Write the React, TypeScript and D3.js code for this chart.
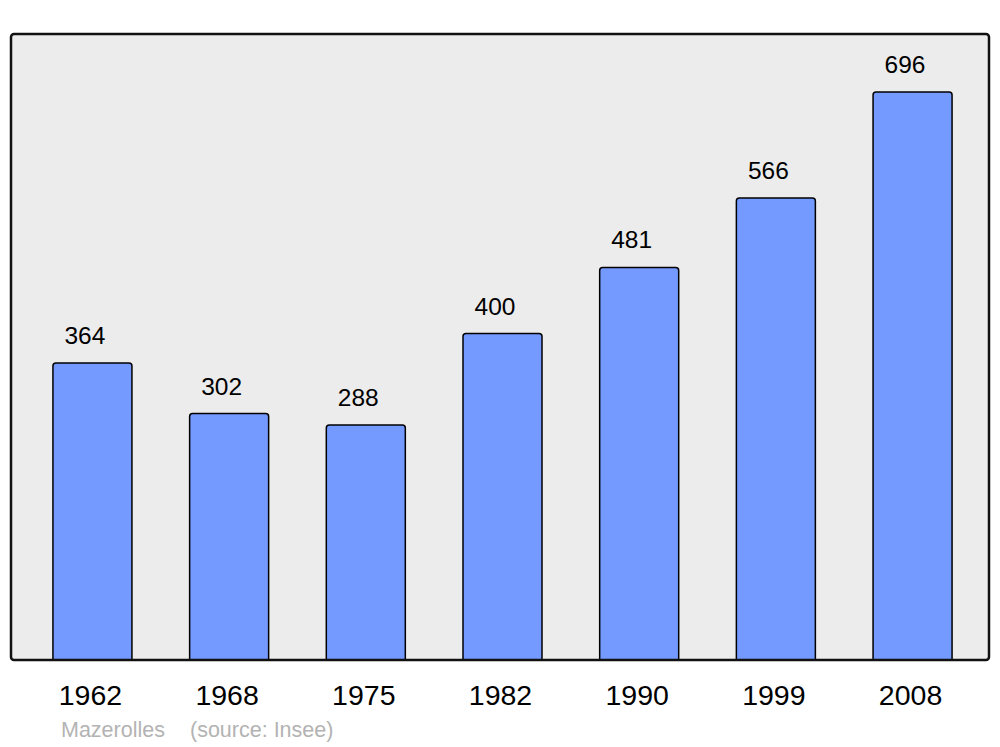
import React from "react";
import * as d3 from "d3";

const years = ["1962", "1968", "1975", "1982", "1990", "1999", "2008"];
const population = [364, 302, 288, 400, 481, 566, 696];
const commune = "Mazerolles";
const source = "(source: Insee)";

export default function App() {
  const W = 1000, H = 747;
  const panel = { x: 11, y: 34, w: 978, h: 626 };
  const pi = 0.422;
  const x = d3.scaleBand<string>().domain(years).range([24.1, 980.9]).paddingInner(pi).paddingOuter(pi / 2);
  const y = d3.scaleLinear().domain([0, 767]).range([660, 34]);
  const bw = x.bandwidth();
  const r = 3;
  const barPath = (x0: number, top: number, w: number, bottom: number) =>
    `M${x0},${bottom} L${x0},${top + r} Q${x0},${top} ${x0 + r},${top} L${x0 + w - r},${top} Q${x0 + w},${top} ${x0 + w},${top + r} L${x0 + w},${bottom}`;
  return (
    <svg width={W} height={H} style={{ position: "absolute", left: 0, top: 0 }} fontFamily="Liberation Sans, Arial, sans-serif">
      <rect x={0} y={0} width={W} height={H} fill="#ffffff" />
      <rect x={panel.x} y={panel.y} width={panel.w} height={panel.h} rx={3} ry={3} fill="#ececec" stroke="none" />
      {years.map((yr, i) => {
        const x0 = x(yr)!;
        const top = y(population[i]);
        return (
          <g key={yr}>
            <path d={barPath(x0, top, bw, y(0)) + " Z"} fill="#7499ff" stroke="none" />
            <path d={barPath(x0, top, bw, y(0))} fill="none" stroke="#000" strokeWidth={1.5} />
            <text x={x0 + bw / 2 - 7.5} y={top - 19} textAnchor="middle" fontSize={24.5} fill="#000">
              {population[i]}
            </text>
            <text x={x0 + bw / 2 - 2} y={705} textAnchor="middle" fontSize={28.5} fill="#000">
              {yr}
            </text>
          </g>
        );
      })}
      <rect x={panel.x} y={panel.y} width={panel.w} height={panel.h} rx={3} ry={3} fill="none" stroke="#111" strokeWidth={2.5} />
      <text x={61} y={737} fontSize={21.5} fill="#b3b3b3">{commune}</text>
      <text x={190} y={737} fontSize={21.5} fill="#b3b3b3">{source}</text>
    </svg>
  );
}
